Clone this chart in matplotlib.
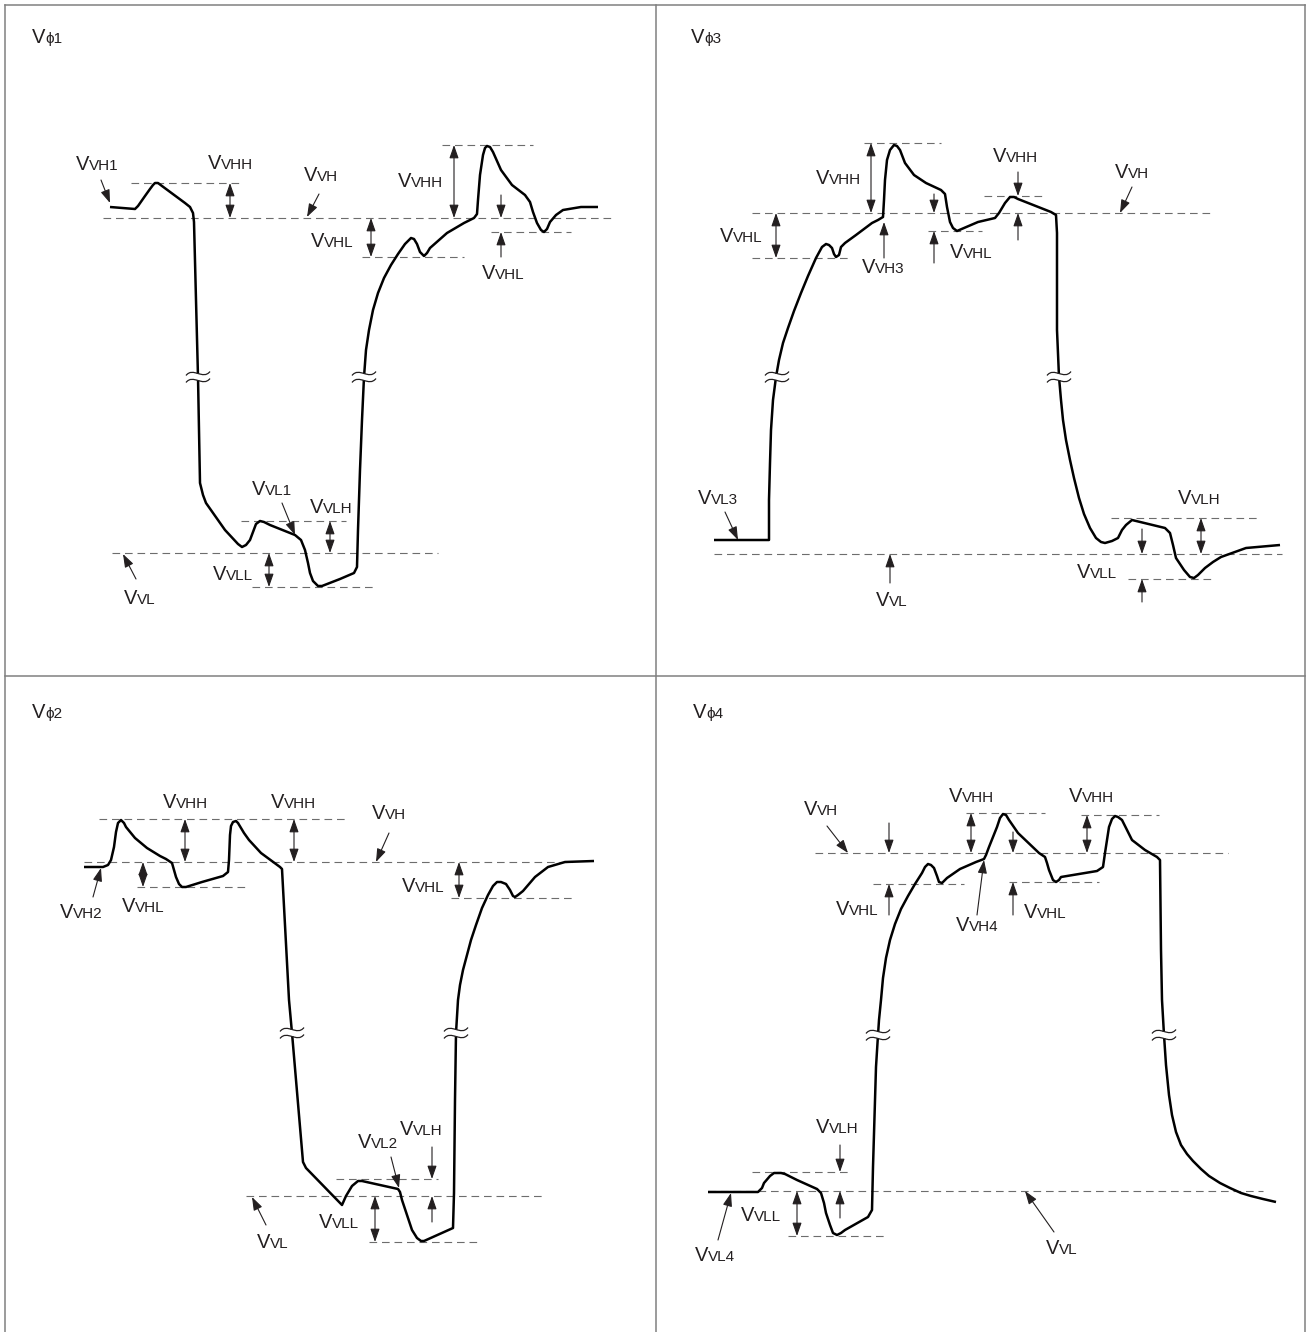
import matplotlib
matplotlib.use('Agg')
import matplotlib.pyplot as plt
from matplotlib.path import Path
from matplotlib.patches import PathPatch, Rectangle

plt.rcParams['lines.scale_dashes'] = False

# ---------------- DATA (pixel coordinates) ----------------
# Panel frames
frame_x = [5, 656, 1305]
frame_y = [5, 676, 1332]

# Panel titles: (x, baseline, big, small)
titles = [(32, 43, 'V', 'ϕ1'), (691, 43, 'V', 'ϕ3'), (32, 718, 'V', 'ϕ2'), (693, 718, 'V', 'ϕ4')]

# ---- Vphi1 ----
wave1_x = [110, 135, 138, 145, 150, 153, 155, 158, 162, 185, 190, 193, 194, 196, 198, 200, 203, 206, 225, 238,
           242, 246, 250, 253, 256, 260, 264, 270, 285, 295, 301, 305, 308, 310, 313, 318, 322, 340, 354, 357,
           358, 360, 362, 364, 366, 369, 373, 378, 384, 391, 398, 405, 408, 411, 414, 417, 420, 424, 427, 430,
           447, 464, 474, 477, 478, 480, 483, 485, 487, 490, 493, 501, 512, 525, 530, 533, 537, 541, 544, 547,
           550, 556, 563, 581, 598]
wave1_y = [207, 209, 206, 196, 189, 185, 183, 183, 186, 203, 207, 213, 222, 300, 377, 483, 495, 503, 530, 544,
           547, 545, 540, 532, 524, 521, 522, 525, 531, 535, 540, 550, 563, 573, 581, 586, 586, 579, 573, 567,
           530, 470, 420, 377, 350, 330, 310, 293, 278, 265, 254, 244, 241, 238, 239, 244, 252, 256, 253, 248,
           233, 223, 218, 214, 200, 175, 155, 148, 146, 147, 152, 170, 185, 195, 202, 212, 223, 230, 232, 229,
           222, 215, 210, 207, 207]
dash1 = [(218, 103, 611), (183, 131, 240), (145, 442, 533), (257, 362, 464), (232, 491, 571),
         (553, 112, 438), (521, 241, 346), (587, 252, 375)]
darrow1 = [(230, 183, 218), (454, 145, 218), (371, 218, 257), (330, 521, 553), (269, 553, 587)]
arrow1 = [(501, 195, 501, 218), (501, 257, 501, 232), (101, 180, 110, 203), (319, 194, 307, 217),
          (282, 503, 295, 535), (136, 579, 123, 554)]
labels1 = [(76, 170, 'V', 'VH1'), (208, 169, 'V', 'VHH'), (304, 181, 'V', 'VH'), (398, 187, 'V', 'VHH'),
           (311, 247, 'V', 'VHL'), (482, 279, 'V', 'VHL'), (252, 495, 'V', 'VL1'), (310, 513, 'V', 'VLH'),
           (213, 580, 'V', 'VLL'), (124, 604, 'V', 'VL')]
breaks1 = [(198, 377), (364, 377)]

# ---- Vphi3 ----
wave3_x = [714, 769, 769, 770, 771, 773, 776, 779, 783, 788, 794, 801, 808, 816, 822, 826, 829, 832, 834, 836,
           839, 841, 845, 856, 872, 878, 883, 884, 885, 887, 890, 894, 897, 900, 905, 914, 926, 941, 945, 947,
           950, 953, 957, 964, 978, 995, 999, 1005, 1010, 1014, 1018, 1051, 1056, 1057, 1057, 1057, 1059, 1061,
           1063, 1066, 1070, 1074, 1079, 1084, 1090, 1096, 1101, 1105, 1112, 1118, 1122, 1126, 1132, 1165, 1170,
           1173, 1176, 1184, 1190, 1194, 1198, 1205, 1213, 1221, 1246, 1280]
wave3_y = [540, 540, 500, 463, 430, 400, 377, 360, 343, 328, 311, 293, 276, 258, 247, 244, 245, 248, 254, 257,
           255, 247, 243, 235, 223, 220, 217, 200, 180, 160, 150, 145, 146, 150, 163, 175, 183, 190, 194, 207,
           222, 228, 231, 228, 222, 218, 213, 203, 197, 197, 199, 212, 215, 233, 280, 330, 377, 400,
           420, 440, 460, 478, 498, 514, 528, 538, 542, 543, 541, 538, 530, 525, 520, 528, 533,
           545, 558, 570, 577, 578, 575, 568, 562, 557, 548, 545]
dash3 = [(213, 752, 1213), (143, 864, 941), (196, 984, 1043), (258, 752, 851), (231, 928, 982),
         (554, 714, 1282), (518, 1111, 1257), (579, 1128, 1215)]
darrow3 = [(776, 213, 258), (871, 143, 213), (1201, 518, 554)]
arrow3 = [(884, 258, 884, 222), (934, 194, 934, 213), (934, 263, 934, 231), (1018, 172, 1018, 196),
          (1018, 240, 1018, 213), (1132, 187, 1120, 213), (725, 512, 738, 540), (890, 583, 890, 554),
          (1142, 529, 1142, 554), (1142, 602, 1142, 579)]
labels3 = [(816, 184, 'V', 'VHH'), (720, 242, 'V', 'VHL'), (862, 273, 'V', 'VH3'), (950, 258, 'V', 'VHL'),
           (993, 162, 'V', 'VHH'), (1115, 178, 'V', 'VH'), (698, 504, 'V', 'VL3'), (876, 606, 'V', 'VL'),
           (1178, 504, 'V', 'VLH'), (1077, 578, 'V', 'VLL')]
breaks3 = [(777, 377), (1059, 377)]

# ---- Vphi2 ----
wave2_x = [84, 103, 108, 111, 114, 116, 118, 121, 124, 126, 135, 147, 160, 166, 172, 174, 176, 179, 182, 186,
           202, 223, 228, 229, 230, 231, 233, 236, 238, 244, 249, 261, 280, 282, 289, 292, 303, 306, 342, 346,
           352, 358, 362, 398, 400, 402, 412, 417, 421, 424, 453, 454, 455, 456, 458, 460, 463, 467, 471, 476,
           482, 488, 493, 497, 501, 506, 510, 513, 515, 518, 523, 535, 548, 565, 594]
wave2_y = [867, 867, 865, 860, 847, 832, 823, 820, 823, 827, 838, 848, 856, 859, 863, 870, 877, 884, 887, 887,
           882, 876, 872, 860, 835, 826, 822, 821, 823, 833, 840, 853, 867, 869, 1000, 1033, 1162, 1168, 1205, 1196,
           1186, 1181, 1181, 1189, 1192, 1200, 1230, 1238, 1241, 1241, 1228, 1193, 1100, 1033, 1000, 985, 970, 955, 940, 925,
           908, 895, 886, 882, 882, 884, 890, 896, 897, 895, 891, 877, 867, 862, 861]
dash2 = [(862, 84, 572), (819, 99, 348), (887, 137, 247), (898, 451, 573),
         (1196, 246, 546), (1179, 336, 438), (1242, 369, 478)]
darrow2 = [(185, 819, 862), (294, 819, 862), (143, 862, 887), (459, 862, 898), (375, 1196, 1242)]
arrow2 = [(93, 897, 101, 868), (389, 833, 376, 862), (391, 1157, 399, 1188), (432, 1147, 432, 1179),
          (432, 1222, 432, 1196), (266, 1225, 252, 1197)]
labels2 = [(163, 808, 'V', 'VHH'), (271, 808, 'V', 'VHH'), (372, 819, 'V', 'VH'), (60, 918, 'V', 'VH2'),
           (122, 912, 'V', 'VHL'), (402, 892, 'V', 'VHL'), (400, 1135, 'V', 'VLH'), (358, 1148, 'V', 'VL2'),
           (319, 1228, 'V', 'VLL'), (257, 1248, 'V', 'VL')]
breaks2 = [(292, 1033), (456, 1033)]

# ---- Vphi4 ----
wave4_x = [708, 758, 762, 764, 770, 774, 777, 781, 785, 797, 817, 821, 824, 826, 830, 833, 837, 841, 845, 868,
           872, 873, 876, 878, 879, 881, 883, 886, 890, 895, 901, 908, 915, 922, 925, 928, 931, 934, 937, 939,
           942, 945, 947, 960, 976, 984, 986, 989, 997, 1000, 1003, 1006, 1009, 1018, 1039, 1045, 1047, 1049,
           1053, 1056, 1059, 1061, 1097, 1103, 1105, 1109, 1112, 1115, 1118, 1122, 1127, 1132, 1145, 1157, 1160,
           1161, 1162, 1164, 1166, 1169, 1172, 1176, 1181, 1187, 1193, 1201, 1209, 1220, 1230, 1241, 1251, 1263,
           1276]
wave4_y = [1192, 1192, 1188, 1183, 1176, 1173, 1173, 1173, 1174, 1180, 1189, 1193, 1203, 1213, 1225, 1233, 1235, 1233, 1230, 1217,
           1210, 1167, 1067, 1035, 1020, 1000, 978, 958, 940, 924, 909, 896, 884, 873, 867, 864, 865, 868, 876, 882,
           883, 880, 878, 869, 862, 859, 855, 847, 827, 818, 814, 815, 820, 833, 853, 857, 863, 870,
           880, 882, 880, 877, 871, 867, 853, 827, 819, 816, 817, 820, 830, 840, 850, 857, 860,
           950, 1000, 1035, 1065, 1095, 1115, 1132, 1145, 1154, 1161, 1169, 1176, 1183, 1188, 1193, 1196, 1199,
           1202]
dash4 = [(853, 815, 1228), (813, 966, 1045), (815, 1081, 1159), (884, 873, 964), (882, 1009, 1099),
         (1191, 708, 1263), (1172, 752, 851), (1236, 788, 886)]
darrow4 = [(971, 813, 853), (1087, 815, 853), (797, 1191, 1236)]
arrow4 = [(889, 823, 889, 853), (889, 915, 889, 884), (827, 826, 848, 853), (1013, 832, 1013, 853),
          (1013, 915, 1013, 882), (977, 915, 984, 860), (840, 1145, 840, 1172), (840, 1218, 840, 1191),
          (718, 1240, 731, 1193), (1054, 1232, 1025, 1191)]
labels4 = [(804, 815, 'V', 'VH'), (949, 802, 'V', 'VHH'), (1069, 802, 'V', 'VHH'), (836, 915, 'V', 'VHL'),
           (956, 931, 'V', 'VH4'), (1024, 918, 'V', 'VHL'), (816, 1133, 'V', 'VLH'), (741, 1221, 'V', 'VLL'),
           (695, 1261, 'V', 'VL4'), (1046, 1254, 'V', 'VL')]
breaks4 = [(878, 1035), (1164, 1035)]

# ---------------- DRAWING ----------------
W, H = 1307, 1332
fig = plt.figure(figsize=(W / 100, H / 100), dpi=100)
ax = fig.add_axes([0, 0, 1, 1])
ax.set_xlim(0, W)
ax.set_ylim(H, 0)
ax.axis('off')
renderer = fig.canvas.get_renderer()

FAM = ['Liberation Sans', 'DejaVu Sans']
TXT = '#231f20'
GRAY = '#808080'
BIG, SMALL = 14.5, 11

# frames
ax.plot([frame_x[0], frame_x[2]], [frame_y[0], frame_y[0]], color=GRAY, lw=1.1)
ax.plot([frame_x[0], frame_x[2]], [frame_y[1], frame_y[1]], color=GRAY, lw=1.1)
for fx in frame_x:
    ax.plot([fx, fx], [frame_y[0], frame_y[2]], color=GRAY, lw=1.1)


def label(x, y, big, small):
    t = ax.text(x, y, big, fontsize=BIG, family=FAM, va='baseline', ha='left', color=TXT)
    w = t.get_window_extent(renderer).width
    ax.text(x + w, y, small, fontsize=SMALL, family=FAM, va='baseline', ha='left', color=TXT)


def arrow(x0, y0, x1, y1, style='-|>'):
    ax.annotate('', xy=(x1, y1), xytext=(x0, y0), xycoords='data',
                arrowprops=dict(arrowstyle=f'{style},head_length=0.8,head_width=0.28', mutation_scale=10,
                                lw=0.8, color=TXT, shrinkA=0, shrinkB=0))


def brk(x, y):
    ax.add_patch(Rectangle((x - 5, y - 3), 10, 6, facecolor='white', edgecolor='none', zorder=4))
    for dy in (-3.5, 3.5):
        verts = [(x - 12, y + dy + 2), (x - 5, y + dy - 7), (x + 5, y + dy + 7), (x + 12, y + dy - 2)]
        p = Path(verts, [Path.MOVETO, Path.CURVE4, Path.CURVE4, Path.CURVE4])
        ax.add_patch(PathPatch(p, facecolor='none', edgecolor=TXT, lw=0.9, zorder=5))


for (x, y, b, s) in titles:
    label(x, y, b, s)

panels = [(wave1_x, wave1_y, dash1, darrow1, arrow1, labels1, breaks1),
          (wave3_x, wave3_y, dash3, darrow3, arrow3, labels3, breaks3),
          (wave2_x, wave2_y, dash2, darrow2, arrow2, labels2, breaks2),
          (wave4_x, wave4_y, dash4, darrow4, arrow4, labels4, breaks4)]

for wx, wy, dashes, darrows, arrows, labels, breaks in panels:
    for (y, x0, x1) in dashes:
        ax.plot([x0, x1], [y, y], color='#6d6d6d', lw=0.8, dashes=(5.5, 3.5), zorder=2)
    ax.plot(wx, wy, color='black', lw=1.8, solid_joinstyle='round', solid_capstyle='butt', zorder=3)
    for (x, y0, y1) in darrows:
        arrow(x, y0, x, y1, style='<|-|>')
    for (x0, y0, x1, y1) in arrows:
        arrow(x0, y0, x1, y1)
    for (x, y, b, s) in labels:
        label(x, y, b, s)
    for (x, y) in breaks:
        brk(x, y)

fig.savefig('out.png', dpi=100)
